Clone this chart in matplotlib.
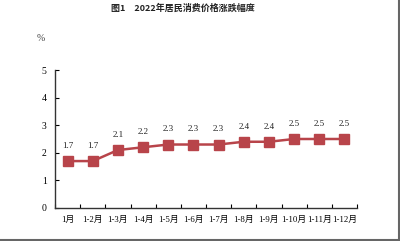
import matplotlib.pyplot as plt
from matplotlib.lines import Line2D

plt.rcParams['font.family'] = ['Liberation Serif', 'Noto Sans CJK SC']

months = ['1月', '1-2月', '1-3月', '1-4月', '1-5月', '1-6月',
          '1-7月', '1-8月', '1-9月', '1-10月', '1-11月', '1-12月']
cpi = [1.7, 1.7, 2.1, 2.2, 2.3, 2.3, 2.3, 2.4, 2.4, 2.5, 2.5, 2.5]
yticks = [0, 1, 2, 3, 4, 5]

red = '#b8444a'

fig = plt.figure(figsize=(4, 2.41), dpi=100)
ax = fig.add_axes([0.1375, 0.137, 0.755, 0.5725])

x = list(range(len(months)))
ax.plot(x, cpi, color=red, lw=1.8, marker='s', ms=6.5,
        markerfacecolor=red, markeredgecolor=red)

for xi, v in zip(x, cpi):
    ax.annotate(f'{v:.1f}', (xi, v), xytext=(0, 8), textcoords='offset points',
                ha='center', va='bottom', fontsize=6.5, color='#222222')

ax.set_xlim(-0.5, len(months) - 0.5)
ax.set_ylim(0, 5)
ax.set_yticks(yticks)
ax.set_yticklabels([str(t) for t in yticks], fontsize=7)

# category labels between boundary ticks
ax.set_xticks([i - 0.5 for i in range(len(months) + 1)])
ax.set_xticklabels([])
ax.set_xticks(x, minor=True)
ax.set_xticklabels(months, minor=True, fontsize=6.3)
ax.tick_params(axis='x', which='minor', length=0, pad=6)
ax.tick_params(axis='x', which='major', direction='in', length=3, width=0.8)
ax.tick_params(axis='y', direction='in', length=3, width=0.8, pad=6)

for s in ['top', 'right']:
    ax.spines[s].set_visible(False)
for s in ['left', 'bottom']:
    ax.spines[s].set_linewidth(1.0)
    ax.spines[s].set_color('#333333')

fig.text(0.457, 0.965, '图1　2022年居民消费价格涨跌幅度', ha='center', va='center',
         fontsize=6.5, family=['Noto Sans CJK SC'], weight='bold', color='#222222')
fig.text(0.103, 0.842, '%', ha='center', va='center', fontsize=7, color='#444444')

# gray frame on bottom and right
fig.add_artist(Line2D([0, 0.997], [0.006, 0.006], transform=fig.transFigure,
                      color='#666666', lw=1.5))
fig.add_artist(Line2D([0.997, 0.997], [0.006, 1], transform=fig.transFigure,
                      color='#666666', lw=1.5))

fig.savefig('out.png', dpi=100)
